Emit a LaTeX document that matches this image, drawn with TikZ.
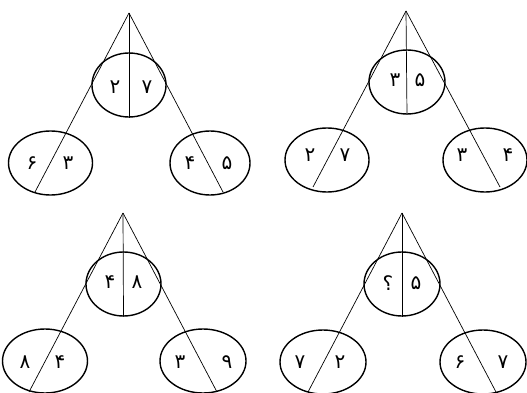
\documentclass[tikz,border=0pt]{standalone}
\usepackage{fontspec}
\newfontfamily\arabicfont[Script=Arabic]{DejaVu Sans}
\usetikzlibrary{shapes.geometric}
\tikzset{
  oval/.style={draw, ellipse, line width=1.4pt, inner sep=0pt, minimum width=#1, minimum height=64pt},
  oval/.default=84pt,
  leg/.style={line width=0.7pt},
  digit/.style={inner sep=0pt, font=\arabicfont\fontsize{20}{22}\selectfont}
}
\begin{document}
\begin{tikzpicture}[x=1pt,y=-1pt]
\useasboundingbox (0,0) rectangle (527,393);
% ---------- panel 1 ----------
\coordinate (a1) at (129,13);
\coordinate (l1) at (35,192);
\coordinate (r1) at (223,192);
\node[oval=74pt] (t1) at (129,85) {};
\node[oval=84pt] (bl1) at (50.5,163) {};
\node[oval=80pt] (br1) at (210,163) {};
\draw[leg] (a1) -- (t1.south);
\draw[leg] (a1) -- (l1);
\draw[leg] (a1) -- (r1);
\node[digit] (t1a) at (115,87) {۲};
\node[digit] (t1b) at (147,87) {۷};
\node[digit] (l1a) at (32,163) {۶};
\node[digit] (l1b) at (68,163) {۳};
\node[digit] (r1a) at (190,163) {۴};
\node[digit] (r1b) at (227,163) {۵};
% ---------- panel 2 ----------
\coordinate (a2) at (406,11);
\coordinate (l2) at (313,187);
\coordinate (r2) at (500,187);
\node[oval=76pt] (t2) at (407,82) {};
\node[oval=84pt] (bl2) at (327,160) {};
\node[oval=84pt] (br2) at (485,160) {};
\draw[leg] (a2) -- (t2.south);
\draw[leg] (a2) -- (l2);
\draw[leg] (a2) -- (r2);
\node[digit] (t2a) at (395,80) {۳};
\node[digit] (t2b) at (420,80) {۵};
\node[digit] (l2a) at (310,155) {۲};
\node[digit] (l2b) at (345,155) {۷};
\node[digit] (r2a) at (462,155) {۳};
\node[digit] (r2b) at (508,155) {۴};
% ---------- panel 3 ----------
\coordinate (a3) at (123,213);
\coordinate (l3) at (29,392);
\coordinate (r3) at (217,392);
\node[oval=75pt] (t3) at (123.5,284) {};
\node[oval=85pt] (bl3) at (45,361) {};
\node[oval=86pt] (br3) at (203,361) {};
\draw[leg] (a3) -- (t3.south);
\draw[leg] (a3) -- (l3);
\draw[leg] (a3) -- (r3);
\node[digit] (t3a) at (110,282) {۴};
\node[digit] (t3b) at (137,282) {۸};
\node[digit] (l3a) at (25,362) {۸};
\node[digit] (l3b) at (60,362) {۴};
\node[digit] (r3a) at (180,362) {۳};
\node[digit] (r3b) at (227,362) {۹};
% ---------- panel 4 ----------
\coordinate (a4) at (402,213);
\coordinate (l4) at (308,392);
\coordinate (r4) at (496,392);
\node[oval=76pt] (t4) at (402,284) {};
\node[oval=86pt] (bl4) at (323,362) {};
\node[oval=86pt] (br4) at (483,362) {};
\draw[leg] (a4) -- (t4.south);
\draw[leg] (a4) -- (l4);
\draw[leg] (a4) -- (r4);
\node[digit] (t4a) at (388,283) {؟};
\node[digit] (t4b) at (416,283) {۵};
\node[digit] (l4a) at (300,362) {۷};
\node[digit] (l4b) at (340,362) {۲};
\node[digit] (r4a) at (460,362) {۶};
\node[digit] (r4b) at (503,362) {۷};
\end{tikzpicture}
\end{document}
